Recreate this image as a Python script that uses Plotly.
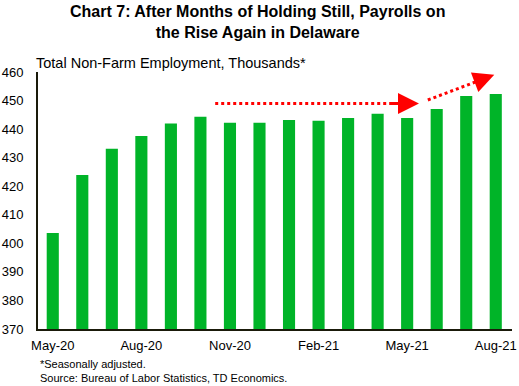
import plotly.graph_objects as go

months = ["May-20", "Jun-20", "Jul-20", "Aug-20", "Sep-20", "Oct-20", "Nov-20", "Dec-20",
          "Jan-21", "Feb-21", "Mar-21", "Apr-21", "May-21", "Jun-21", "Jul-21", "Aug-21"]
employment = [403.6, 423.9, 433.1, 437.6, 442.0, 444.3, 442.2, 442.2,
              443.2, 442.9, 443.9, 445.4, 443.9, 447.0, 451.6, 452.3]
tick_labels = ["May-20", "Aug-20", "Nov-20", "Feb-21", "May-21", "Aug-21"]
y_ticks = [370, 380, 390, 400, 410, 420, 430, 440, 450, 460]

xs = list(range(len(months)))
tick_pos = [months.index(t) for t in tick_labels]

fig = go.Figure()
fig.add_trace(go.Bar(x=xs, y=employment, marker_color="#00B428", width=0.41,
                     marker_line_width=0, hoverinfo="skip"))

red = "#FF0000"
arrows = [((5.5, 449.0), (12.4, 449.0)), ((12.7, 450.2), (14.95, 459.0))]
for (x0, y0), (x1, y1) in arrows:
    fx = x0 + (x1 - x0) * 0.9
    fy = y0 + (y1 - y0) * 0.9
    fig.add_shape(type="line", x0=x0, y0=y0, x1=fx, y1=fy, xref="x", yref="y",
                  line=dict(color=red, width=3, dash="dot"))
    ax = x0 + (x1 - x0) * 0.85
    ay = y0 + (y1 - y0) * 0.85
    fig.add_annotation(x=x1, y=y1, ax=ax, ay=ay, xref="x", yref="y", axref="x", ayref="y",
                       showarrow=True, arrowhead=2, arrowsize=1.4, arrowwidth=3,
                       arrowcolor=red, text="")

fig.update_layout(
    width=519, height=386,
    margin=dict(l=38, r=7, t=72, b=57),
    plot_bgcolor="white", paper_bgcolor="white",
    showlegend=False,
    font=dict(family="Liberation Sans, Arial, sans-serif", color="#000000", size=13),
    bargap=0.6,
)
fig.update_xaxes(range=[-0.5, 15.55], tickvals=tick_pos, ticktext=tick_labels,
                 showline=True, linecolor="#1a1a0a", linewidth=2, ticks="",
                 showgrid=False, zeroline=False, tickfont=dict(size=13),
                 ticklabelstandoff=3, automargin=False)
fig.update_yaxes(range=[370, 460], tickvals=y_ticks, showline=True, linecolor="#1a1a0a",
                 linewidth=2, ticks="", showgrid=False, zeroline=False,
                 tickfont=dict(size=13), ticklabelstandoff=10, automargin=False)

fig.add_annotation(text="<b>Chart 7: After Months of Holding Still, Payrolls on<br>the Rise Again in Delaware</b>",
                   xref="paper", yref="paper", x=0.464, y=1 + 71 / 257, xanchor="center", yanchor="top",
                   showarrow=False, font=dict(size=16))
fig.add_annotation(text="Total Non-Farm Employment, Thousands*", xref="paper", yref="paper",
                   x=-0.008, y=1.0, xanchor="left", yanchor="bottom", yshift=-1,
                   showarrow=False, font=dict(size=14.5))
fig.add_annotation(text="*Seasonally adjusted.<br>Source: Bureau of Labor Statistics, TD Economics.",
                   xref="paper", yref="paper", x=0.0, y=0, xanchor="left", yanchor="top",
                   yshift=-27, align="left", showarrow=False, font=dict(size=11))

fig.write_html("out.html", config={"displayModeBar": False, "staticPlot": True},
               post_script="document.body.style.margin='0';document.body.style.overflow='hidden';")
